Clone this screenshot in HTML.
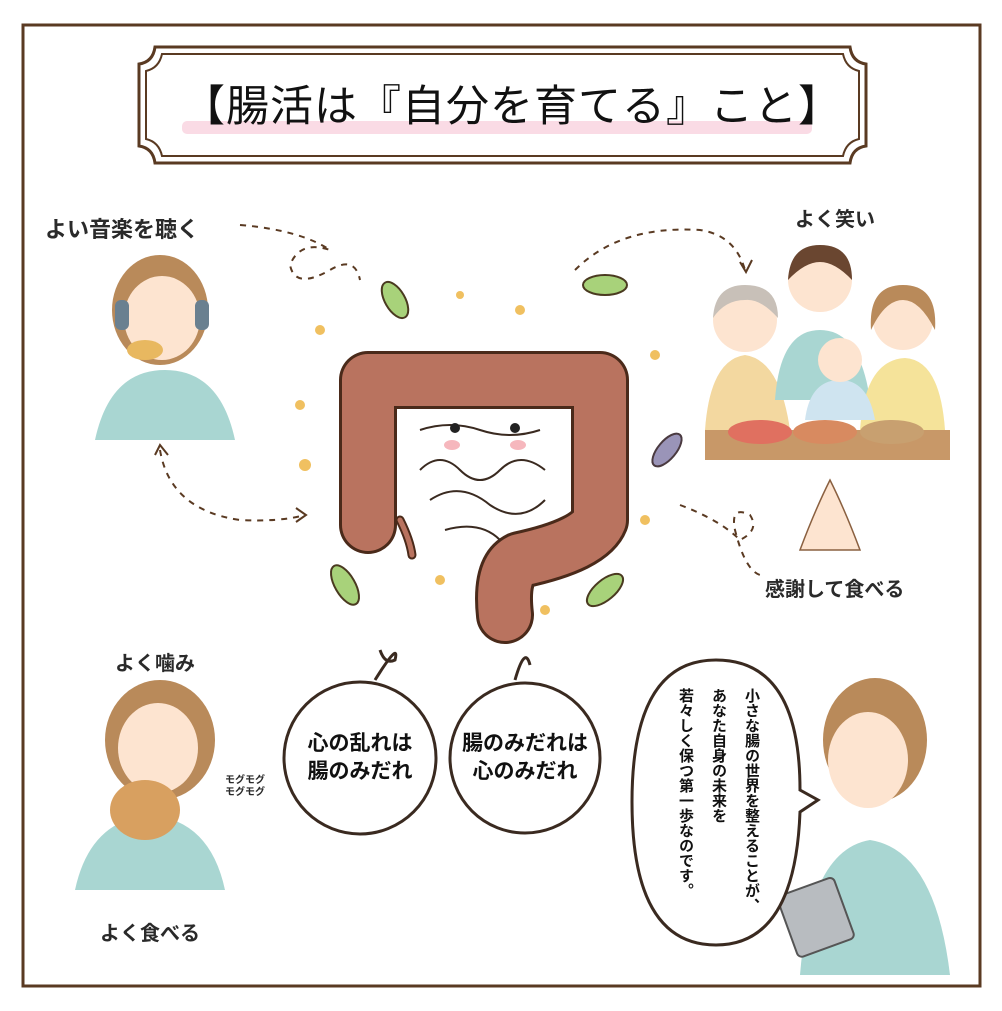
<!DOCTYPE html>
<html><head><meta charset="utf-8">
<style>
body{margin:0;background:#fff;}
#c{position:relative;width:1002px;height:1011px;overflow:hidden;background:#fff;font-family:"Liberation Sans","Noto Sans CJK JP",sans-serif;}
.t{position:absolute;color:#2a2a2a;font-weight:bold;white-space:nowrap;}
.v{position:absolute;writing-mode:vertical-rl;font-size:15px;color:#111;font-weight:bold;line-height:33px;white-space:nowrap;}
</style></head><body><div id="c">
<svg width="1002" height="1011" style="position:absolute;left:0;top:0">
<rect x="23" y="25" width="957" height="961" fill="none" stroke="#5a3a22" stroke-width="3"/>
<path d="M155,47 H850 Q852,62 866,64 V146 Q852,148 850,163 H155 Q153,148 139,146 V64 Q153,62 155,47Z" fill="none" stroke="#5a3a22" stroke-width="3"/>
<path d="M162,54 H843 Q846,68 859,71 V139 Q846,142 843,156 H162 Q159,142 146,139 V71 Q159,68 162,54Z" fill="none" stroke="#5a3a22" stroke-width="2"/>
<rect x="182" y="121" width="630" height="13" rx="5" fill="#fadbe5"/>
<g fill="none" stroke="#5a3a22" stroke-width="2" stroke-dasharray="6,6">
<path d="M240,225 Q300,230 330,250 Q300,240 290,265 Q295,290 330,270 Q355,255 360,280"/>
<path d="M575,270 Q620,225 700,230 Q735,235 745,270"/>
<path d="M160,450 Q170,510 240,520 Q280,522 305,515"/>
<path d="M680,505 Q720,520 740,540 Q760,530 750,515 Q730,505 735,530 Q745,570 760,575"/>
</g>
<g fill="none" stroke="#5a3a22" stroke-width="2">
<path d="M740,262 L746,272 L752,260"/><path d="M155,455 L160,445 L168,455"/><path d="M296,508 L306,515 L296,522"/>
</g>
<g fill="none" stroke-linecap="round" stroke-linejoin="round">
<path d="M368,525 V380 H600 V520 Q590,545 520,560 Q500,570 505,615" stroke="#4a2a1a" stroke-width="58"/>
<path d="M368,525 V380 H600 V520 Q590,545 520,560 Q500,570 505,615" stroke="#b9735f" stroke-width="52"/>
<path d="M400,520 Q410,540 412,555" stroke="#4a2a1a" stroke-width="9"/>
<path d="M400,520 Q410,540 412,555" stroke="#b9735f" stroke-width="5"/>
</g>
<g fill="none" stroke="#3a2a20" stroke-width="2">
<path d="M420,430 Q450,420 480,430 Q510,440 540,430"/><path d="M420,470 Q440,450 460,470 Q480,490 500,470 Q520,450 545,470"/>
<path d="M430,500 Q460,480 490,505 Q520,525 545,500"/><path d="M445,530 Q480,520 500,540"/>
</g>
<circle cx="455" cy="428" r="5" fill="#222"/><circle cx="515" cy="428" r="5" fill="#222"/>
<ellipse cx="452" cy="445" rx="8" ry="5" fill="#f6b7bd"/><ellipse cx="518" cy="445" rx="8" ry="5" fill="#f6b7bd"/>
<g fill="#a8d27a" stroke="#4a3a20" stroke-width="2">
<ellipse cx="395" cy="300" rx="10" ry="20" transform="rotate(-30 395 300)"/>
<ellipse cx="605" cy="285" rx="22" ry="10"/>
<ellipse cx="345" cy="585" rx="10" ry="22" transform="rotate(-30 345 585)"/>
<ellipse cx="605" cy="590" rx="22" ry="10" transform="rotate(-40 605 590)"/>
</g>
<ellipse cx="667" cy="450" rx="9" ry="20" transform="rotate(40 667 450)" fill="#9a94b8" stroke="#4a3a40" stroke-width="2"/>
<g fill="#f0c060">
<circle cx="320" cy="330" r="5"/><circle cx="300" cy="405" r="5"/><circle cx="305" cy="465" r="6"/><circle cx="460" cy="295" r="4"/><circle cx="520" cy="310" r="5"/><circle cx="655" cy="355" r="5"/><circle cx="645" cy="520" r="5"/><circle cx="440" cy="580" r="5"/><circle cx="545" cy="610" r="5"/>
</g>
<g>
<path d="M95,440 Q110,370 165,370 Q220,370 235,440Z" fill="#a9d6d2"/>
<ellipse cx="160" cy="310" rx="48" ry="55" fill="#b98a5a"/><ellipse cx="162" cy="318" rx="38" ry="42" fill="#fde4d0"/>
<rect x="115" y="300" width="14" height="30" rx="6" fill="#6a8090"/><rect x="195" y="300" width="14" height="30" rx="6" fill="#6a8090"/>
<ellipse cx="145" cy="350" rx="18" ry="10" fill="#e8b860"/>
<rect x="705" y="430" width="245" height="30" fill="#c89868"/>
<path d="M705,430 Q710,360 745,355 Q780,360 790,430Z" fill="#f3d8a0"/><circle cx="745" cy="320" r="32" fill="#fde4d0"/><path d="M713,318 Q715,285 745,285 Q778,285 778,318 Q760,298 745,300 Q725,300 713,318Z" fill="#c8c0b8"/>
<path d="M775,400 Q780,330 820,330 Q860,330 870,400Z" fill="#a9d6d2"/><circle cx="820" cy="280" r="32" fill="#fde4d0"/><path d="M788,280 Q790,245 820,245 Q852,245 852,280 Q835,262 820,262 Q805,262 788,280Z" fill="#6a4630"/>
<path d="M860,430 Q865,360 905,358 Q940,360 945,430Z" fill="#f5e39a"/><circle cx="903" cy="320" r="30" fill="#fde4d0"/><path d="M871,330 Q868,285 903,285 Q938,285 935,330 Q920,300 903,300 Q885,300 871,330Z" fill="#b98a5a"/>
<path d="M805,420 Q810,380 840,380 Q868,380 875,420Z" fill="#cfe4f0"/><circle cx="840" cy="360" r="22" fill="#fde4d0"/>
<ellipse cx="760" cy="432" rx="32" ry="12" fill="#e07060"/><ellipse cx="825" cy="432" rx="32" ry="12" fill="#d88a60"/><ellipse cx="892" cy="432" rx="32" ry="12" fill="#c8a070"/>
<path d="M800,550 Q815,510 830,480 Q845,510 860,550Z" fill="#fde4d0" stroke="#8a6040" stroke-width="1.5"/>
<path d="M75,890 Q90,820 150,815 Q210,820 225,890Z" fill="#a9d6d2"/>
<ellipse cx="160" cy="740" rx="55" ry="60" fill="#b98a5a"/><ellipse cx="158" cy="748" rx="40" ry="45" fill="#fde4d0"/>
<ellipse cx="145" cy="810" rx="35" ry="30" fill="#d8a060"/>
<path d="M800,975 Q810,850 870,840 Q935,850 950,975Z" fill="#a9d6d2"/>
<ellipse cx="875" cy="740" rx="52" ry="62" fill="#b98a5a"/><ellipse cx="868" cy="760" rx="40" ry="48" fill="#fde4d0"/>
<rect x="785" y="885" width="60" height="65" rx="5" fill="#b8bcc0" stroke="#555" stroke-width="2" transform="rotate(-20 815 915)"/>
</g>
<g fill="#fff" stroke="#3a2a20" stroke-width="3">
<circle cx="360" cy="758" r="76"/><circle cx="525" cy="758" r="75"/>
<path d="M375,680 Q400,640 395,660 Q385,665 380,650"/><path d="M515,680 Q525,645 530,665"/>
<path d="M716,660 Q800,660 800,790 L818,800 L800,812 Q795,945 716,945 Q632,945 632,802 Q632,660 716,660Z"/>
</g>
</svg>
<div class="t" style="left:182px;top:72px;font-size:43px;font-weight:normal;color:#111;letter-spacing:1px">【腸活は『自分を育てる』こと】</div>
<div class="t" style="left:45px;top:212px;font-size:22px">よい音楽を聴く</div>
<div class="t" style="left:795px;top:203px;font-size:20px">よく笑い</div>
<div class="t" style="left:765px;top:573px;font-size:20px">感謝して食べる</div>
<div class="t" style="left:115px;top:647px;font-size:20px">よく噛み</div>
<div class="t" style="left:100px;top:917px;font-size:20px">よく食べる</div>
<div class="t" style="left:225px;top:775px;font-size:10px;line-height:12px">モグモグ<br>モグモグ</div>
<div class="t" style="left:300px;top:730px;font-size:21px;line-height:28px;text-align:center;width:120px;color:#111">心の乱れは<br>腸のみだれ</div>
<div class="t" style="left:455px;top:730px;font-size:21px;line-height:28px;text-align:center;width:140px;color:#111">腸のみだれは<br>心のみだれ</div>
<div class="v" style="left:669px;top:688px;height:240px">小さな腸の世界を整えることが、<br>あなた自身の未来を<br>若々しく保つ第一歩なのです。</div>
</div></body></html>
